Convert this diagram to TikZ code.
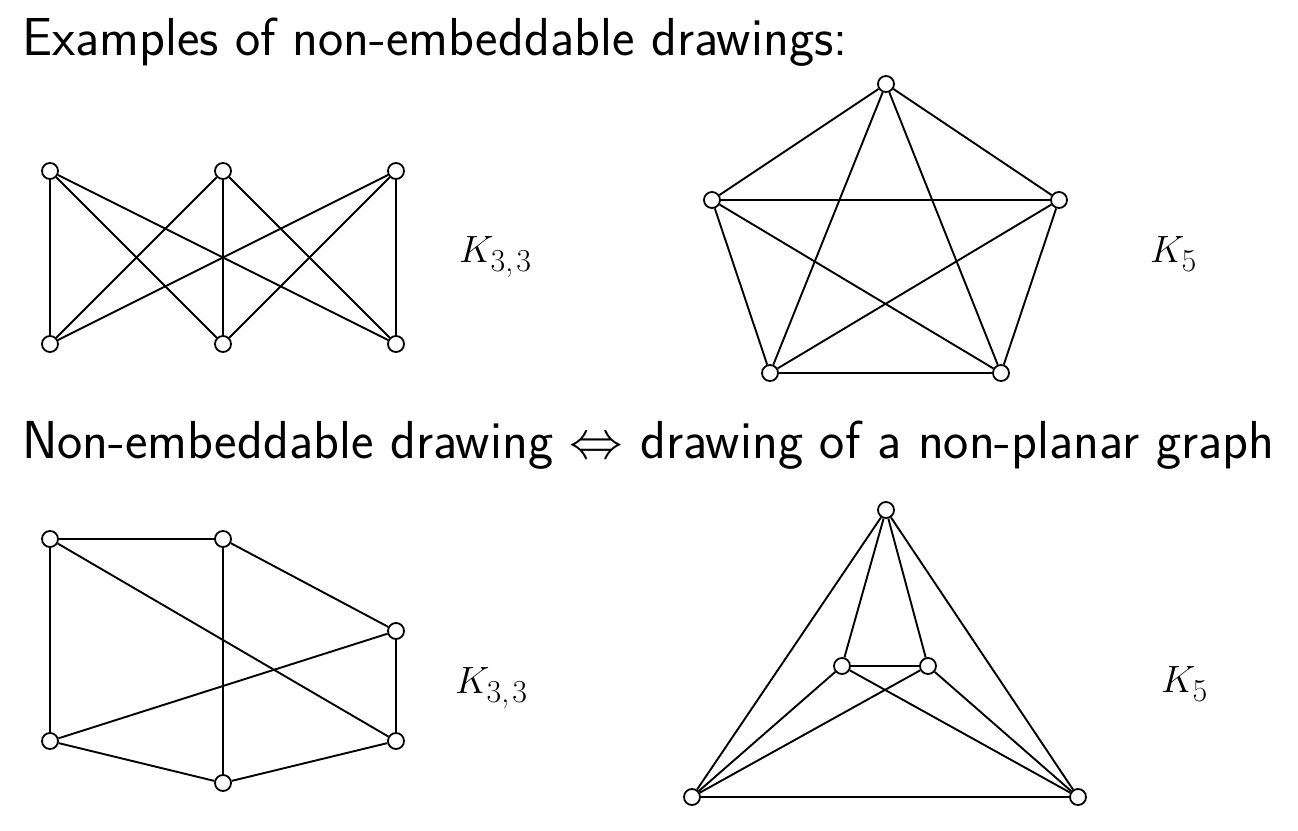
\RequirePackage{fix-cm}
\documentclass[tikz,border=0pt]{standalone}
\usepackage{fontspec}
\newcommand\kgraphlabel[1]{$K$\kern-3pt\raisebox{-9pt}{\fontsize{32}{34}\selectfont #1}}
\begin{document}
\begin{tikzpicture}[x=1pt,y=-1pt,
  vtx/.style={circle,draw=black,fill=white,line width=1.8pt,minimum size=16pt,inner sep=0pt},
  edge/.style={line width=1.9pt,black},
  title/.style={anchor=base west,inner sep=0pt,font=\sffamily\fontsize{53.5}{62}\selectfont},
  glabel/.style={anchor=base west,inner sep=0pt,font=\fontsize{38}{46}\selectfont}]
\useasboundingbox[fill=white] (0,0) rectangle (1298,830);
\node[title] (t1) at (22,55) {Examples of non-embeddable drawings:};
\node[title] (t2) at (22,458) {Non-embeddable drawing $\Leftrightarrow$ drawing of a non-planar graph};
% top K33
\node[vtx] (a1) at (50,171) {};
\node[vtx] (a2) at (223,171) {};
\node[vtx] (a3) at (396,171) {};
\node[vtx] (b1) at (50,344) {};
\node[vtx] (b2) at (223,344) {};
\node[vtx] (b3) at (396,344) {};
\foreach \i in {1,2,3}{\foreach \j in {1,2,3}{\draw[edge] (a\i) -- (b\j);}}
\node[glabel] (l1) at (459,262) {\kgraphlabel{3,\kern3pt3}};
% top K5
\node[vtx] (p1) at (886,84) {};
\node[vtx] (p2) at (712,200) {};
\node[vtx] (p3) at (1059,200) {};
\node[vtx] (p4) at (770,373) {};
\node[vtx] (p5) at (1001,373) {};
\foreach \i/\j in {1/2,1/3,1/4,1/5,2/3,2/4,2/5,3/4,3/5,4/5}{\draw[edge] (p\i) -- (p\j);}
\node[glabel] (l2) at (1150,262) {\kgraphlabel{5}};
% bottom K33
\node[vtx] (c1) at (50,539) {};
\node[vtx] (c2) at (223,539) {};
\node[vtx] (c3) at (396,631) {};
\node[vtx] (c4) at (50,741) {};
\node[vtx] (c5) at (223,783) {};
\node[vtx] (c6) at (396,741) {};
\foreach \i/\j in {1/2,1/4,1/6,2/5,2/3,3/4,3/6,4/5,5/6}{\draw[edge] (c\i) -- (c\j);}
\node[glabel] (l3) at (455,693) {\kgraphlabel{3,\kern3pt3}};
% bottom K5
\node[vtx] (q1) at (886,510) {};
\node[vtx] (q2) at (842,666) {};
\node[vtx] (q3) at (928,666) {};
\node[vtx] (q4) at (692,797) {};
\node[vtx] (q5) at (1078,797) {};
\foreach \i/\j in {1/2,1/3,1/4,1/5,2/3,2/4,2/5,3/4,3/5,4/5}{\draw[edge] (q\i) -- (q\j);}
\node[glabel] (l4) at (1161,692) {\kgraphlabel{5}};
\end{tikzpicture}
\end{document}
